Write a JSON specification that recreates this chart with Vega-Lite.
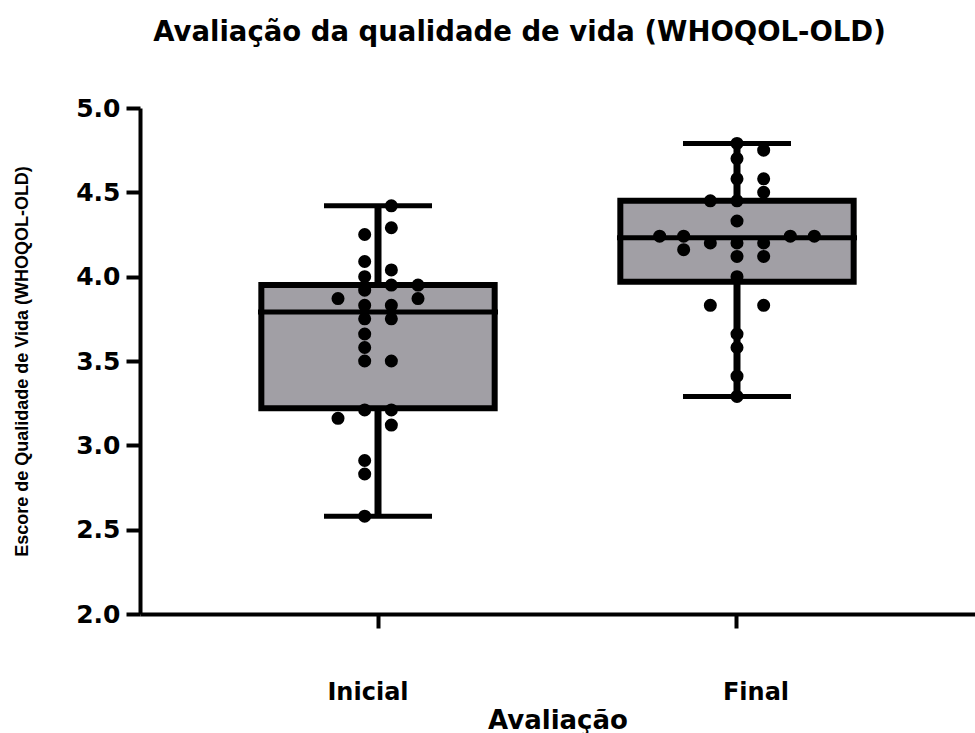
{
  "$schema": "https://vega.github.io/schema/vega-lite/v6.json",
  "autosize": "none",
  "padding": {"left": 140, "top": 108, "right": 0, "bottom": 119},
  "width": 835,
  "height": 506,
  "background": "white",
  "config": {
    "view": {"stroke": null},
    "axis": {"grid": false},
    "axisY": {
      "domainWidth": 4, "domainColor": "black",
      "tickWidth": 4, "tickSize": 14, "tickColor": "black",
      "labelFont": "DejaVu Sans", "labelFontSize": 25, "labelFontWeight": "bold", "labelColor": "black",
      "labelPadding": 6,
      "titleFont": "Liberation Sans", "titleFontSize": 18, "titleFontWeight": "bold", "titleColor": "black",
      "titlePadding": 44
    }
  },
  "title": {
    "text": "Avaliação da qualidade de vida (WHOQOL-OLD)",
    "font": "DejaVu Sans", "fontSize": 27.5, "fontWeight": "bold", "color": "black",
    "dx": -38, "offset": 50
  },
  "resolve": {"scale": {"xOffset": "independent"}},
  "datasets": {
    "pts": [
      {"group": "Inicial", "value": 4.42, "col": 0.5},
      {"group": "Inicial", "value": 4.29, "col": 0.5},
      {"group": "Inicial", "value": 4.25, "col": -0.5},
      {"group": "Inicial", "value": 4.09, "col": -0.5},
      {"group": "Inicial", "value": 4.04, "col": 0.5},
      {"group": "Inicial", "value": 4.00, "col": -0.5},
      {"group": "Inicial", "value": 3.95, "col": 0.5},
      {"group": "Inicial", "value": 3.95, "col": 1.5},
      {"group": "Inicial", "value": 3.92, "col": -0.5},
      {"group": "Inicial", "value": 3.87, "col": -1.5},
      {"group": "Inicial", "value": 3.87, "col": 1.5},
      {"group": "Inicial", "value": 3.83, "col": -0.5},
      {"group": "Inicial", "value": 3.83, "col": 0.5},
      {"group": "Inicial", "value": 3.75, "col": -0.5},
      {"group": "Inicial", "value": 3.75, "col": 0.5},
      {"group": "Inicial", "value": 3.66, "col": -0.5},
      {"group": "Inicial", "value": 3.58, "col": -0.5},
      {"group": "Inicial", "value": 3.50, "col": -0.5},
      {"group": "Inicial", "value": 3.50, "col": 0.5},
      {"group": "Inicial", "value": 3.21, "col": -0.5},
      {"group": "Inicial", "value": 3.21, "col": 0.5},
      {"group": "Inicial", "value": 3.16, "col": -1.5},
      {"group": "Inicial", "value": 3.12, "col": 0.5},
      {"group": "Inicial", "value": 2.91, "col": -0.5},
      {"group": "Inicial", "value": 2.83, "col": -0.5},
      {"group": "Inicial", "value": 2.58, "col": -0.5},
      {"group": "Final", "value": 4.79, "col": 0},
      {"group": "Final", "value": 4.75, "col": 1},
      {"group": "Final", "value": 4.70, "col": 0},
      {"group": "Final", "value": 4.58, "col": 0},
      {"group": "Final", "value": 4.58, "col": 1},
      {"group": "Final", "value": 4.50, "col": 1},
      {"group": "Final", "value": 4.45, "col": -1},
      {"group": "Final", "value": 4.45, "col": 0},
      {"group": "Final", "value": 4.33, "col": 0},
      {"group": "Final", "value": 4.24, "col": -2.9},
      {"group": "Final", "value": 4.24, "col": -2},
      {"group": "Final", "value": 4.24, "col": 2},
      {"group": "Final", "value": 4.24, "col": 2.9},
      {"group": "Final", "value": 4.20, "col": -1},
      {"group": "Final", "value": 4.20, "col": 0},
      {"group": "Final", "value": 4.20, "col": 1},
      {"group": "Final", "value": 4.16, "col": -2},
      {"group": "Final", "value": 4.12, "col": 0},
      {"group": "Final", "value": 4.12, "col": 1},
      {"group": "Final", "value": 4.00, "col": 0},
      {"group": "Final", "value": 3.83, "col": -1},
      {"group": "Final", "value": 3.83, "col": 1},
      {"group": "Final", "value": 3.66, "col": 0},
      {"group": "Final", "value": 3.58, "col": 0},
      {"group": "Final", "value": 3.41, "col": 0},
      {"group": "Final", "value": 3.29, "col": 0}
    ],
    "summary": [
      {"group": "Inicial", "min": 2.58, "q1": 3.22, "median": 3.79, "q3": 3.95, "max": 4.42},
      {"group": "Final", "min": 3.29, "q1": 3.97, "median": 4.23, "q3": 4.45, "max": 4.79}
    ]
  },
  "encoding": {
    "x": {
      "field": "group", "type": "nominal", "sort": ["Inicial", "Final"],
      "scale": {"type": "band", "paddingInner": 0, "paddingOuter": 0.163},
      "axis": {
        "title": "Avaliação", "labelAngle": 0,
        "domainWidth": 4, "domainColor": "black",
        "tickWidth": 4, "tickSize": 14, "tickColor": "black",
        "labelFont": "DejaVu Sans", "labelFontSize": 24, "labelFontWeight": "bold", "labelColor": "black",
        "labelPadding": 52,
        "labelOffset": {"expr": "datum.value == 'Final' ? 19 : -10"},
        "titleFont": "DejaVu Sans", "titleFontSize": 26, "titleFontWeight": "bold", "titleColor": "black",
        "titlePadding": 3
      }
    }
  },
  "layer": [
    {
      "data": {"name": "summary"},
      "mark": {"type": "rule", "strokeWidth": 7, "color": "black"},
      "encoding": {
        "y": {
          "field": "min", "type": "quantitative",
          "scale": {"domain": [2, 5], "nice": false, "zero": false},
          "title": "Escore de Qualidade de Vida (WHOQOL-OLD)",
          "axis": {"values": [2, 2.5, 3, 3.5, 4, 4.5, 5], "format": ".1f"}
        },
        "y2": {"field": "max"}
      }
    },
    {
      "data": {"name": "summary"},
      "mark": {"type": "bar", "fill": "#a19fa5", "stroke": "black", "strokeWidth": 6, "width": {"band": 0.65}},
      "encoding": {
        "y": {"field": "q1", "type": "quantitative", "title": "Escore de Qualidade de Vida (WHOQOL-OLD)"},
        "y2": {"field": "q3"}
      }
    },
    {
      "data": {"name": "summary"},
      "mark": {"type": "tick", "color": "black", "thickness": 5, "size": 240, "opacity": 1},
      "encoding": {"y": {"field": "median", "type": "quantitative", "title": "Escore de Qualidade de Vida (WHOQOL-OLD)"}}
    },
    {
      "data": {"name": "summary"},
      "mark": {"type": "tick", "color": "black", "thickness": 5, "size": 108, "opacity": 1},
      "encoding": {"y": {"field": "min", "type": "quantitative", "title": "Escore de Qualidade de Vida (WHOQOL-OLD)"}}
    },
    {
      "data": {"name": "summary"},
      "mark": {"type": "tick", "color": "black", "thickness": 5, "size": 108, "opacity": 1},
      "encoding": {"y": {"field": "max", "type": "quantitative", "title": "Escore de Qualidade de Vida (WHOQOL-OLD)"}}
    },
    {
      "data": {"name": "pts"},
      "mark": {"type": "circle", "size": 170, "opacity": 1, "color": "black"},
      "encoding": {
        "y": {"field": "value", "type": "quantitative", "title": "Escore de Qualidade de Vida (WHOQOL-OLD)"},
        "xOffset": {"field": "col", "type": "quantitative", "scale": {"domain": [-3, 3], "range": [99.5, 259.5]}}
      }
    }
  ]
}
